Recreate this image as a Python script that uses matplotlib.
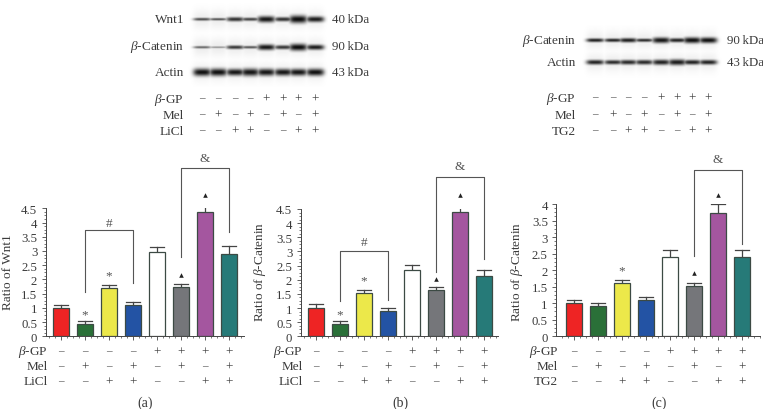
import numpy as np
import matplotlib
matplotlib.use("Agg")
import matplotlib.pyplot as plt
from matplotlib.ticker import MultipleLocator
from matplotlib.transforms import blended_transform_factory

plt.rcParams["font.family"] = ["Liberation Serif", "DejaVu Serif"]
plt.rcParams["mathtext.fontset"] = "custom"
plt.rcParams["mathtext.rm"] = "Liberation Serif"
plt.rcParams["mathtext.it"] = "Liberation Serif:italic"

W, H = 763, 410
TXT = "#3a3a3a"
colors = ["#ee2424", "#2a7038", "#ece84a", "#2353a4", "#ffffff", "#75767a", "#a4569f", "#267a78"]

# bar values and error tops
wnt_vals = [0.98, 0.43, 1.70, 1.10, 2.97, 1.73, 4.36, 2.88]
wnt_tops = [1.09, 0.54, 1.82, 1.20, 3.15, 1.84, 4.65, 3.18]
cat_vals = [1.01, 0.44, 1.53, 0.91, 2.34, 1.64, 4.38, 2.14]
cat_tops = [1.13, 0.54, 1.63, 1.01, 2.53, 1.74, 4.68, 2.33]
tg_vals = [1.00, 0.92, 1.60, 1.10, 2.41, 1.52, 3.72, 2.41]
tg_tops = [1.10, 1.00, 1.70, 1.20, 2.61, 1.60, 4.01, 2.61]

gp_signs = ["–", "–", "–", "–", "+", "+", "+", "+"]
mel_signs = ["–", "+", "–", "+", "–", "+", "–", "+"]
li_signs = ["–", "–", "+", "+", "–", "–", "+", "+"]

# band darkness and half-thickness for each lane
wnt_dark = [0.72, 0.70, 0.82, 0.75, 0.92, 0.82, 0.96, 0.90]
wnt_thick = [1.5, 1.3, 2.2, 1.7, 3.2, 2.2, 3.9, 2.9]
bcat_dark = [0.62, 0.45, 0.80, 0.68, 0.92, 0.80, 0.96, 0.90]
bcat_thick = [1.3, 1.0, 1.9, 1.4, 2.9, 2.1, 3.5, 2.6]
act_dark = [0.94, 0.94, 0.92, 0.92, 0.92, 0.92, 0.92, 0.94]
act_thick = [3.8, 3.8, 3.4, 3.8, 3.6, 3.5, 3.5, 3.6]
c_cat_dark = [0.90, 0.88, 0.90, 0.85, 0.92, 0.88, 0.95, 0.94]
c_cat_thick = [1.9, 1.8, 2.2, 1.7, 2.9, 2.1, 3.0, 2.9]
c_act_dark = [0.88, 0.85, 0.85, 0.85, 0.88, 0.90, 0.88, 0.88]
c_act_thick = [2.4, 2.2, 2.4, 2.4, 2.7, 3.0, 2.4, 2.4]


def px_axes(fig, left, right, top, bottom):
    return fig.add_axes([left / W, 1 - bottom / H, (right - left) / W, (bottom - top) / H])


fig = plt.figure(figsize=(W / 100, H / 100), dpi=100)
overlay = px_axes(fig, 0, W, 0, H)
overlay.set_xlim(0, W)
overlay.set_ylim(H, 0)
overlay.axis("off")


def text(x, y, s, size=9, ha="center", **kw):
    overlay.text(x, y, s, fontsize=size, ha=ha, va="center", color=TXT, **kw)


def sign(x, y, s, transform=None):
    # the en dash sits low in this font, lift it level with the plus
    trans = transform if transform is not None else overlay.transData
    if s == "–":
        overlay.text(x, y - 1.2, s, fontsize=8, ha="center", va="center", color=TXT, transform=trans)
    else:
        overlay.text(x, y - 0.3, s, fontsize=9.5, ha="center", va="center", color=TXT, transform=trans)


def panel(left, right, top, first, ymax, vals, tops, label, label_x, third_name, third):
    bottom = 337.3
    spacing = 24.0
    step = 0.5
    ax = px_axes(fig, left, right, top, bottom)
    ax.patch.set_alpha(0)
    ax.set_xlim((left - first) / spacing, (right - first) / spacing)
    ax.set_ylim(0, ymax)
    xs = np.arange(8)
    ax.bar(xs, vals, width=0.64, color=colors, edgecolor="#3c4a44", linewidth=0.9, zorder=3)
    for x, v, t in zip(xs, vals, tops):
        ax.plot([x, x], [v, t], color="#444444", lw=0.9, zorder=2)
        ax.plot([x - 0.31, x + 0.31], [t, t], color="#444444", lw=0.9, zorder=2)
    for s in ["top", "right"]:
        ax.spines[s].set_visible(False)
    for s in ["left", "bottom"]:
        ax.spines[s].set_linewidth(0.7)
        ax.spines[s].set_color("#444444")
    ax.yaxis.set_minor_locator(MultipleLocator(step / 4))
    ax.set_yticks(np.arange(0, ymax + 0.01, step))
    ax.set_yticklabels([f"{v:g}" for v in np.arange(0, ymax + 0.01, step)], fontsize=9.2, color=TXT)
    ax.set_xticks(xs)
    ax.set_xticklabels([])
    ax.xaxis.set_minor_locator(MultipleLocator(0.25))
    ax.tick_params(axis="both", which="major", length=2.6, width=0.6, color="#444444", pad=3.5)
    ax.tick_params(axis="both", which="minor", length=1.5, width=0.5, color="#444444")
    ax.set_ylabel(label, fontsize=9.5, color=TXT)
    ax.yaxis.set_label_coords(label_x, 272, transform=overlay.transData)

    # sign rows under the bars
    trans = blended_transform_factory(ax.transData, overlay.transData)
    names = ["$\\mathit{β}$-GP", "Mel", third_name]
    for y, name, row in zip([352.5, 367.5, 382.5], names, [gp_signs, mel_signs, third]):
        overlay.text(left + 2, y, name, fontsize=9.5, ha="right", va="center", color=TXT)
        for x, s in zip(xs, row):
            sign(x, y, s, trans)
    return ax


def bracket(ax, x0, x1, ytop, y0, y1):
    ax.plot([x0, x0, x1, x1], [y0, ytop, ytop, y1], color="#555555", lw=0.8,
            clip_on=False, zorder=4)


def mark(ax, x, y, s):
    # y given in overlay pixels, x in bar positions
    trans = blended_transform_factory(ax.transData, overlay.transData)
    if s == "tri":
        overlay.plot([x], [y], marker="^", ms=3.3, mew=0, color="#222222", transform=trans, clip_on=False)
    else:
        overlay.text(x, y, s, fontsize=9.5, ha="center", va="center", color="#555555", transform=trans)


ax_a = panel(45.7, 244, 209.3, 61, 4.5, wnt_vals, wnt_tops, "Ratio of Wnt1", 14, "LiCl", li_signs)
bracket(ax_a, 1, 3, 3.73, 1.57, 1.86)
bracket(ax_a, 5, 7, 5.93, 2.78, 3.68)
mark(ax_a, 2, 224, "#")
mark(ax_a, 6, 159, "&")
mark(ax_a, 1, 315, "*")
mark(ax_a, 2, 276, "*")
mark(ax_a, 5, 276, "tri")
mark(ax_a, 6, 196, "tri")

ax_b = panel(300.7, 498, 210, 316, 4.5, cat_vals, cat_tops, "Ratio of $\\mathit{β}$-Catenin", 268, "LiCl", li_signs)
bracket(ax_b, 1, 3, 3.0, 1.26, 1.3)
bracket(ax_b, 5, 7, 5.62, 2.28, 2.73)
mark(ax_b, 2, 243, "#")
mark(ax_b, 6, 167, "&")
mark(ax_b, 1, 315, "*")
mark(ax_b, 2, 281, "*")
mark(ax_b, 5, 280, "tri")
mark(ax_b, 6, 196, "tri")

ax_c = panel(556.3, 760, 205, 574, 4, tg_vals, tg_tops, "Ratio of $\\mathit{β}$-Catenin", 525, "TG2", li_signs)
bracket(ax_c, 5, 7, 5.03, 2.44, 2.79)
mark(ax_c, 6, 160, "&")
mark(ax_c, 2, 271, "*")
mark(ax_c, 5, 274, "tri")
mark(ax_c, 6, 196, "tri")

text(145, 403, "(a)", 10)
text(400, 403, "(b)", 10)
text(659, 403, "(c)", 10)


def blot(x0, x1, y0, y1, rows, lanes, band_w):
    # grayscale image of the blot, one row of bands per entry in rows
    xx, yy = np.meshgrid(np.arange(x0, x1, 0.5), np.arange(y0, y1, 0.5))
    ink = np.zeros_like(xx)
    for yc, dark, thick in rows:
        for lx, d, t in zip(lanes, dark, thick):
            band = d * np.exp(-((xx - lx) / band_w) ** 4 - ((yy - yc) / t) ** 2)
            haze = 0.07 * np.exp(-((xx - lx) / band_w) ** 4 - ((yy - yc) / 9) ** 2)
            ink = np.maximum(ink, np.maximum(band, haze))
    overlay.imshow(1 - ink, cmap="gray", vmin=0, vmax=1, extent=[x0, x1, y1, y0],
                   aspect="auto", interpolation="bilinear", zorder=1)
    overlay.set_xlim(0, W)
    overlay.set_ylim(H, 0)


lanes_a = [202, 218, 235, 250, 266, 283, 298, 315]
blot(188, 328, 4, 88, [(20, wnt_dark, wnt_thick), (48, bcat_dark, bcat_thick), (73, act_dark, act_thick)], lanes_a, 9)
lanes_c = [595, 613, 628, 644, 661, 677, 692, 708]
blot(582, 722, 26, 80, [(41, c_cat_dark, c_cat_thick), (63, c_act_dark, c_act_thick)], lanes_c, 9)

text(184, 20, "Wnt1", 9.5, ha="right")
text(184, 47, "$\\mathit{β}$-Catenin", 9.5, ha="right")
text(184, 73, "Actin", 9.5, ha="right")
text(332, 20, "40\u2009kDa", 9.3, ha="left")
text(332, 47, "90\u2009kDa", 9.3, ha="left")
text(332, 73, "43\u2009kDa", 9.3, ha="left")

text(576, 41, "$\\mathit{β}$-Catenin", 9.5, ha="right")
text(576, 63, "Actin", 9.5, ha="right")
text(727, 41, "90\u2009kDa", 9.3, ha="left")
text(727, 63, "43\u2009kDa", 9.3, ha="left")

for y, name, row in zip([100, 116, 132], ["$\\mathit{β}$-GP", "Mel", "LiCl"], [gp_signs, mel_signs, li_signs]):
    text(184, y, name, 9.5, ha="right")
    for x, s in zip(lanes_a, row):
        sign(x, y, s)

for y, name, row in zip([99, 116, 132], ["$\\mathit{β}$-GP", "Mel", "TG2"], [gp_signs, mel_signs, li_signs]):
    text(576, y, name, 9.5, ha="right")
    for x, s in zip(lanes_c, row):
        sign(x, y, s)

fig.savefig("out.png", dpi=100)
